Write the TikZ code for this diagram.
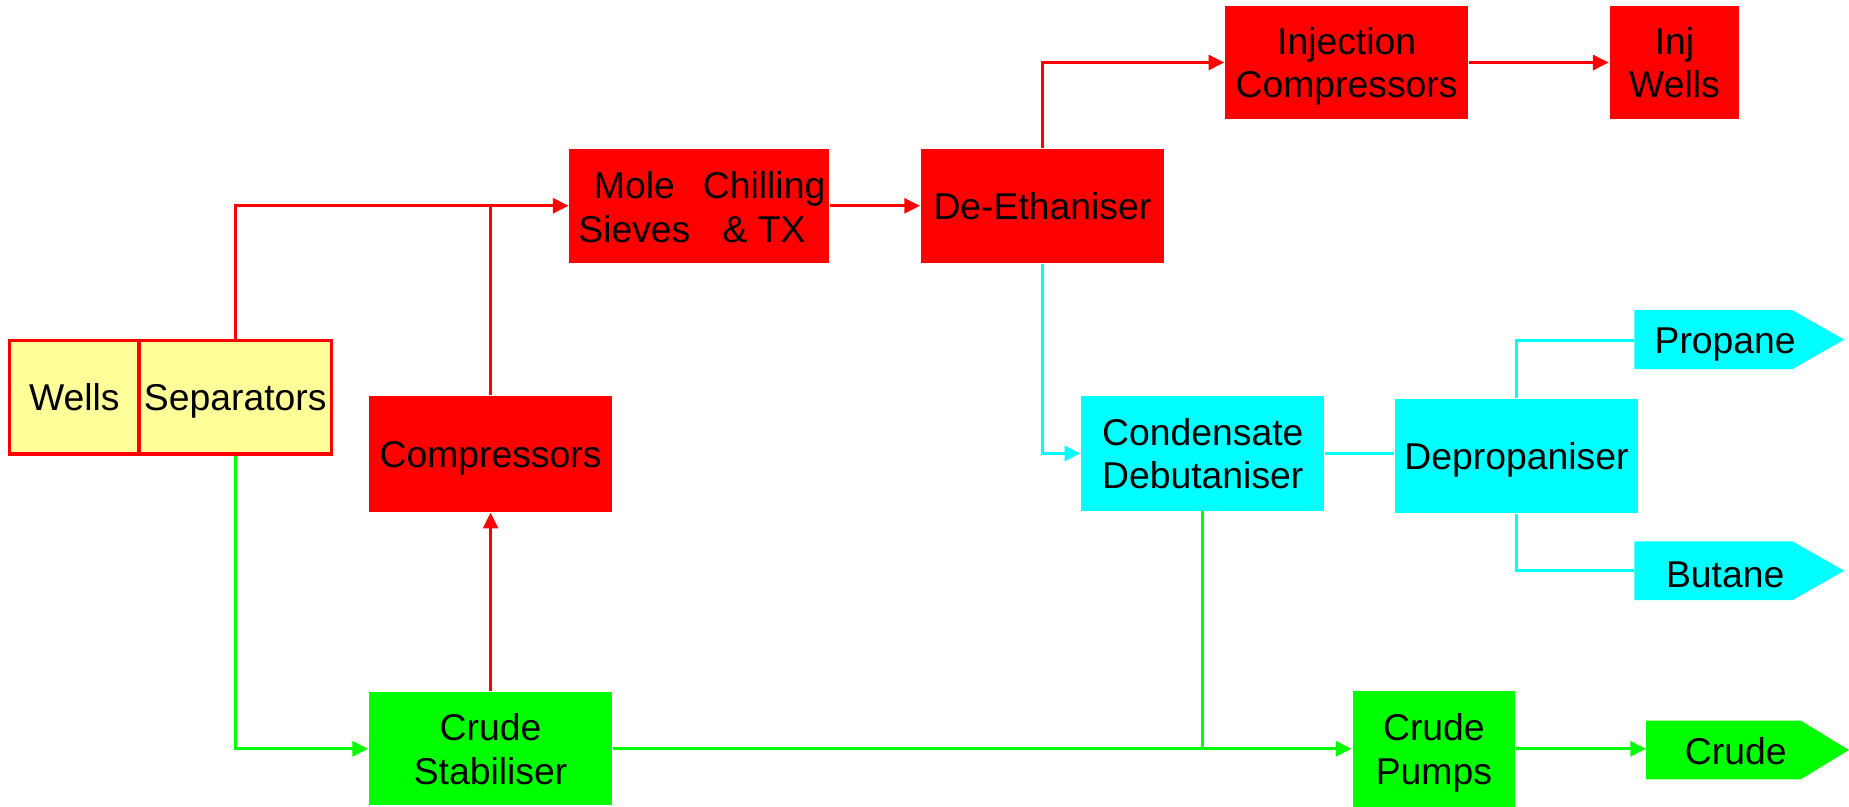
\documentclass[tikz,border=0pt]{standalone}
\usepackage{fontspec}
\setmainfont{Liberation Sans}
\usetikzlibrary{arrows.meta}
\definecolor{pred}{HTML}{FF0000}
\definecolor{pcyan}{HTML}{00FFFF}
\definecolor{pgreen}{HTML}{00FF00}
\definecolor{pyellow}{HTML}{FFFF99}
\begin{document}
\begin{tikzpicture}[x=0.01cm,y=-0.01cm,
  txt/.style={font=\fontsize{9}{10.5}\selectfont, align=center, inner sep=0pt, text=black, text depth=0pt},
  redbox/.style={txt, fill=pred},
  cyanbox/.style={txt, fill=pcyan},
  greenbox/.style={txt, fill=pgreen},
  sepbox/.style={txt, fill=pyellow, draw=pred, line width=0.8pt},
  conn/.style={line width=0.7pt},
  tip/.style={conn, -{Triangle[length=3.8pt,width=3.6pt]}},
  rline/.style={conn, draw=pred},
  rflow/.style={tip, draw=pred},
  cline/.style={conn, draw=pcyan},
  cflow/.style={tip, draw=pcyan},
  gline/.style={conn, draw=pgreen},
  gflow/.style={tip, draw=pgreen},
]
\useasboundingbox (0,0) rectangle (1568,684);

% nodes
\node[sepbox, minimum width=1.10cm, minimum height=0.96cm] (wells) at (63,337) {Wells};
\node[sepbox, minimum width=1.63cm, minimum height=0.96cm] (seps) at (199.5,337) {Separators};

\node[redbox, minimum width=2.20cm, minimum height=0.97cm] (mole) at (593,174.5) {};
\node[txt] (moletxt) at (538,175.5) {Mole\\Sieves};
\node[txt] (chilltxt) at (648,175.5) {Chilling\\\& TX};
\node[redbox, minimum width=2.06cm, minimum height=0.97cm] (deeth) at (884,174.5) {De-Ethaniser};
\node[redbox, minimum width=2.06cm, minimum height=0.96cm] (injc) at (1142,53) {Injection\\Compressors};
\node[redbox, minimum width=1.10cm, minimum height=0.96cm] (injw) at (1420,53) {Inj\\Wells};
\node[redbox, minimum width=2.06cm, minimum height=0.98cm] (comp) at (416,385) {Compressors};

\node[greenbox, minimum width=2.06cm, minimum height=0.96cm] (stab) at (416,635) {Crude\\Stabiliser};
\node[greenbox, minimum width=1.38cm, minimum height=0.98cm] (pumps) at (1216,635) {Crude\\Pumps};

\node[cyanbox, minimum width=2.06cm, minimum height=0.97cm] (cond) at (1020,384.5) {Condensate\\Debutaniser};
\node[cyanbox, minimum width=2.06cm, minimum height=0.97cm] (depro) at (1286,386.5) {Depropaniser};

% product arrows
\fill[pcyan] (1386,263) -- (1520,263) -- (1564,288) -- (1520,313) -- (1386,313) -- cycle;
\node[txt] (propane) at (1463,289) {Propane};
\coordinate (propaneW) at (1386,289);
\fill[pcyan] (1386,459) -- (1520,459) -- (1564,484) -- (1520,509) -- (1386,509) -- cycle;
\node[txt] (butane) at (1463,487) {Butane};
\coordinate (butaneW) at (1386,484);
\fill[pgreen] (1396,611) -- (1527,611) -- (1568,636) -- (1527,661) -- (1396,661) -- cycle;
\node[txt] (crude) at (1472,637) {Crude};
\coordinate (crudeW) at (1396,635);

% connectors
\draw[rflow] (seps.north) |- (mole.west);
\draw[rline] (comp.north) -- (comp.north |- mole.west);
\draw[rflow] (stab.north) -- (comp.south);
\draw[rflow] (mole.east) -- (deeth.west);
\draw[rflow] (deeth.north) |- (injc.west);
\draw[rflow] (injc.east) -- (injw.west);

\draw[cflow] (deeth.south) |- (cond.west);
\draw[cline] (cond.east) -- (cond.east -| depro.west);
\draw[cline] (depro.north) |- (propaneW);
\draw[cline] (depro.south) |- (butaneW);

\draw[gflow] (seps.south) |- (stab.west);
\draw[gflow] (stab.east) -- (pumps.west);
\draw[gline] (cond.south) -- (cond.south |- stab.east);
\draw[gflow] (pumps.east) -- (crudeW);
\end{tikzpicture}
\end{document}
